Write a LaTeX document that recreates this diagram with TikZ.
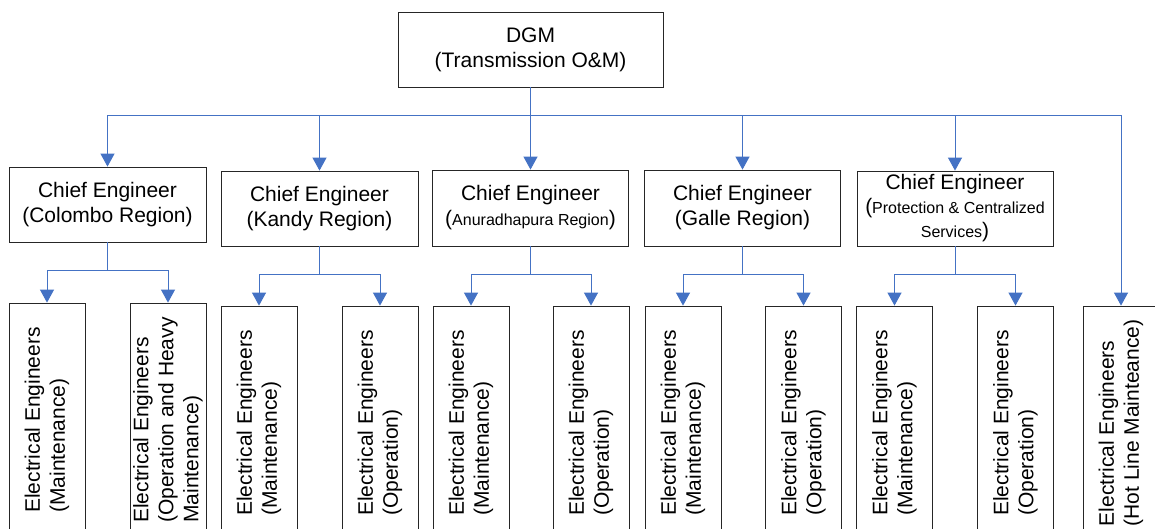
\documentclass[tikz,border=0pt]{standalone}
\usepackage{fontspec}
\setmainfont{Liberation Sans}
\usetikzlibrary{arrows.meta}
\definecolor{linkblue}{HTML}{4472C4}
\newcommand{\bigtxt}{\fontsize{21}{25}\selectfont}
\newcommand{\smalltxt}{\fontsize{16}{20}\selectfont}
\tikzset{
  box/.style={draw=black!85, line width=0.8pt, fill=white, inner sep=0pt,
              align=center, font=\bigtxt},
  headbox/.style={box, minimum width=196pt, minimum height=75pt},
  leaf/.style={box, rotate=90, align=left, minimum width=234pt, minimum height=76pt},
  link/.style={draw=linkblue, line width=1pt},
  arr/.style={link, -{Triangle[width=14pt,length=13pt]}}
}
\begin{document}
\begin{tikzpicture}[x=1pt, y=-1pt]
\clip (0,0) rectangle (1155,529);
\fill[white] (0,0) rectangle (1155,529);

% top of the hierarchy
\node[box, minimum width=265pt, minimum height=75pt] (dgm) at (530.5,49.5)
  {DGM\\(Transmission O\&M)};
\coordinate (bus) at (530.5,116);

% regional / service chief engineers
\node[headbox, minimum width=197pt] (colombo) at (107.5,204.5)
  {Chief Engineer\\(Colombo Region)};
\node[headbox, minimum width=197pt] (kandy) at (319.5,208.5)
  {Chief Engineer\\(Kandy Region)};
\node[headbox, minimum height=76pt] (anu) at (530.5,208)
  {Chief Engineer\\({\smalltxt Anuradhapura Region})};
\node[headbox, minimum height=76pt] (galle) at (742.5,208)
  {Chief Engineer\\(Galle Region)};
\node[headbox] (prot) at (955,208.5)
  {\fontsize{21}{20}\selectfont Chief Engineer\\[-1pt]
   ({\smalltxt Protection \& Centralized}\\[-1pt]
   {\smalltxt Services})};

% electrical engineers
\node[leaf] (cm) at (47,420) {Electrical Engineers\\(Maintenance)};
\node[leaf] (coh) at (168,420) {Electrical Engineers\\(Operation and Heavy\\Maintenance)};
\node[leaf] (km) at (259,423) {Electrical Engineers\\(Maintenance)};
\node[leaf] (ko) at (380,423) {Electrical Engineers\\(Operation)};
\node[leaf] (am) at (471,423) {Electrical Engineers\\(Maintenance)};
\node[leaf] (ao) at (591,423) {Electrical Engineers\\(Operation)};
\node[leaf] (gm) at (683,423) {Electrical Engineers\\(Maintenance)};
\node[leaf] (go) at (803.5,423) {Electrical Engineers\\(Operation)};
\node[leaf] (pm) at (894.5,423) {Electrical Engineers\\(Maintenance)};
\node[leaf] (po) at (1015.5,423) {Electrical Engineers\\(Operation)};
\node[leaf] (hot) at (1121,423) {Electrical Engineers\\(Hot Line Mainteance)};

% DGM to the chiefs and the hot line team
\draw[link] (dgm.south) -- (bus);
\foreach \n in {colombo,kandy,anu,galle,prot}
  \draw[arr] (bus) -| (\n.north);
\draw[arr] (bus) -| (hot.east);

% chiefs to their engineers
\draw[arr] (colombo.south) -- ++(0,28) -| (cm.east);
\draw[arr] (colombo.south) -- ++(0,28) -| (coh.east);
\draw[arr] (kandy.south) -- ++(0,28) -| (km.east);
\draw[arr] (kandy.south) -- ++(0,28) -| (ko.east);
\draw[arr] (anu.south) -- ++(0,28) -| (am.east);
\draw[arr] (anu.south) -- ++(0,28) -| (ao.east);
\draw[arr] (galle.south) -- ++(0,28) -| (gm.east);
\draw[arr] (galle.south) -- ++(0,28) -| (go.east);
\draw[arr] (prot.south) -- ++(0,28) -| (pm.east);
\draw[arr] (prot.south) -- ++(0,28) -| (po.east);
\end{tikzpicture}
\end{document}
